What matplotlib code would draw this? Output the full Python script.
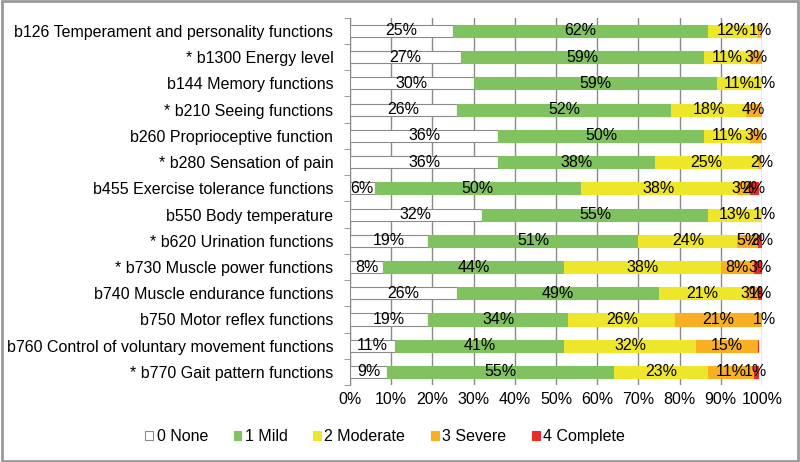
import matplotlib
matplotlib.use("Agg")
import matplotlib.pyplot as plt
import numpy as np

plt.rcParams['font.family'] = ['Liberation Sans', 'DejaVu Sans']

categories = [
    "b126 Temperament and personality functions",
    "* b1300 Energy level",
    "b144 Memory functions",
    "* b210 Seeing functions",
    "b260 Proprioceptive function",
    "* b280 Sensation of pain",
    "b455 Exercise tolerance functions",
    "b550 Body temperature",
    "* b620 Urination functions",
    "* b730 Muscle power functions",
    "b740 Muscle endurance functions",
    "b750 Motor reflex functions",
    "b760 Control of voluntary movement functions",
    "* b770 Gait pattern functions",
]
none_ = [25, 27, 30, 26, 36, 36, 6, 32, 19, 8, 26, 19, 11, 9]
mild = [62, 59, 59, 52, 50, 38, 50, 55, 51, 44, 49, 34, 41, 55]
moderate = [12, 11, 11, 18, 11, 25, 38, 13, 24, 38, 21, 26, 32, 23]
severe = [1, 3, 1, 4, 3, 2, 3, 0, 5, 8, 3, 21, 15, 11]
complete = [0, 0, 0, 0, 0, 0, 2, 1, 2, 3, 1, 1, 0, 1]

series = [
    ("0 None", none_, "white"),
    ("1 Mild", mild, "#80C160"),
    ("2 Moderate", moderate, "#EEE62A"),
    ("3 Severe", severe, "#F8B022"),
    ("4 Complete", complete, "#EC2A27"),
]
fs = 11.5

fig = plt.figure(figsize=(8, 4.62), dpi=100)
ax = fig.add_axes([0.4375, 0.1665, 0.515, 0.795])

y = np.arange(len(categories))
left = np.zeros(len(categories))
for name, vals, col in series:
    vals = np.array(vals, dtype=float)
    ec = "#8a8a8a" if col == "white" else col
    ax.barh(y, vals, left=left, height=0.46, color=col, edgecolor=ec,
            linewidth=0.8, label=name, zorder=3)
    for yi, l, v in zip(y, left, vals):
        if v > 0:
            ax.text(l + v / 2, yi, f"{int(v)}%", ha="center", va="center",
                    fontsize=fs, color="black", zorder=4)
    left += vals

ax.set_xlim(0, 100)
ax.set_ylim(len(categories) - 0.5, -0.5)
ax.set_xticks(np.arange(0, 101, 10))
ax.set_xticklabels([f"{t}%" for t in range(0, 101, 10)], fontsize=fs)
ax.set_yticks(y)
ax.set_yticklabels(categories, fontsize=fs)
ax.set_yticks(np.arange(-0.5, len(categories), 1), minor=True)
ax.tick_params(axis="y", which="major", length=0, pad=12)
ax.tick_params(axis="y", which="minor", length=4, color="#8a8a8a", direction="out")
ax.tick_params(axis="x", length=0, pad=5)
ax.grid(axis="x", color="#8a8a8a", linewidth=1, zorder=0)
for s in ["top", "right", "bottom"]:
    ax.spines[s].set_visible(False)
ax.spines["left"].set_color("#8a8a8a")

ax.legend(loc="center", bbox_to_anchor=(0.085, -0.141), ncol=5,
          frameon=False, fontsize=fs, handlelength=0.5, handleheight=0.5,
          handletextpad=0.2, columnspacing=1.6)

fig.patches.append(plt.Rectangle((0.002, 0.003), 0.996, 0.994, transform=fig.transFigure,
                                 fill=False, edgecolor="#9a9a9a", linewidth=2))

fig.savefig("out.png", dpi=100)
